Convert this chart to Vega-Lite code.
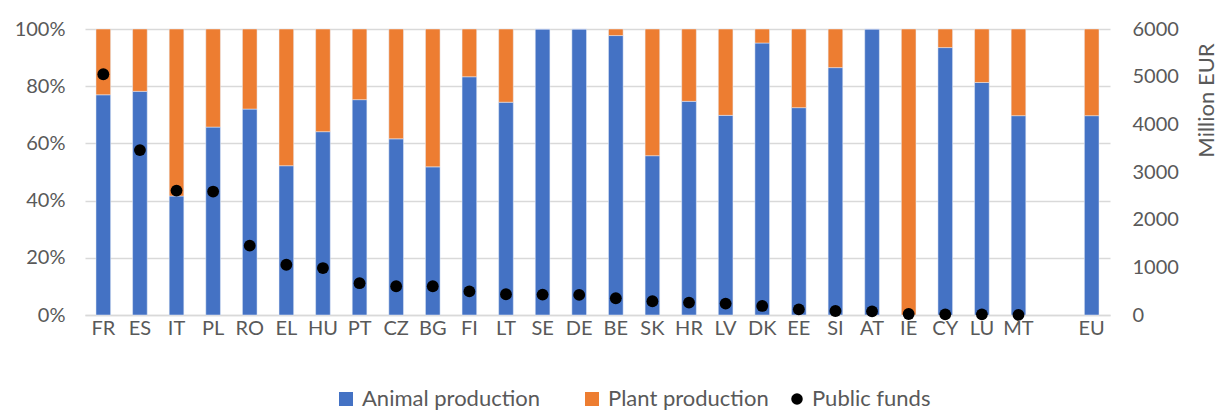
{
  "$schema": "https://vega.github.io/schema/vega-lite/v6.json",
  "autosize": "none",
  "width": 1025,
  "height": 286,
  "padding": {"left": 85, "top": 29, "right": 109, "bottom": 95},
  "background": "white",
  "config": {
    "font": "Lato",
    "view": {"stroke": null},
    "axis": {"labelColor": "#595959", "titleColor": "#595959", "labelFont": "Lato", "titleFont": "Lato"},
    "legend": {"labelColor": "#595959", "labelFont": "Lato", "labelFontSize": 22, "labelOffset": 5, "labelLimit": 400}
  },
  "data": {
    "values": [
      {"country": "FR", "Animal production": 77.0, "Plant production": 23.0, "funds": 5050},
      {"country": "ES", "Animal production": 78.2, "Plant production": 21.8, "funds": 3460},
      {"country": "IT", "Animal production": 41.6, "Plant production": 58.4, "funds": 2610},
      {"country": "PL", "Animal production": 65.7, "Plant production": 34.3, "funds": 2590},
      {"country": "RO", "Animal production": 72.0, "Plant production": 28.0, "funds": 1455},
      {"country": "EL", "Animal production": 52.2, "Plant production": 47.8, "funds": 1055},
      {"country": "HU", "Animal production": 64.1, "Plant production": 35.9, "funds": 985},
      {"country": "PT", "Animal production": 75.3, "Plant production": 24.7, "funds": 667},
      {"country": "CZ", "Animal production": 61.6, "Plant production": 38.4, "funds": 604},
      {"country": "BG", "Animal production": 51.8, "Plant production": 48.2, "funds": 604},
      {"country": "FI", "Animal production": 83.3, "Plant production": 16.7, "funds": 495},
      {"country": "LT", "Animal production": 74.4, "Plant production": 25.6, "funds": 435},
      {"country": "SE", "Animal production": 100, "Plant production": 0, "funds": 428},
      {"country": "DE", "Animal production": 100, "Plant production": 0, "funds": 421},
      {"country": "BE", "Animal production": 97.7, "Plant production": 2.3, "funds": 351},
      {"country": "SK", "Animal production": 55.7, "Plant production": 44.3, "funds": 288},
      {"country": "HR", "Animal production": 74.7, "Plant production": 25.3, "funds": 260},
      {"country": "LV", "Animal production": 69.8, "Plant production": 30.2, "funds": 239},
      {"country": "DK", "Animal production": 95.1, "Plant production": 4.9, "funds": 190},
      {"country": "EE", "Animal production": 72.5, "Plant production": 27.5, "funds": 119},
      {"country": "SI", "Animal production": 86.5, "Plant production": 13.5, "funds": 84},
      {"country": "AT", "Animal production": 100, "Plant production": 0, "funds": 77},
      {"country": "IE", "Animal production": 0, "Plant production": 100, "funds": 21},
      {"country": "CY", "Animal production": 93.5, "Plant production": 6.5, "funds": 14},
      {"country": "LU", "Animal production": 81.3, "Plant production": 18.7, "funds": 14},
      {"country": "MT", "Animal production": 69.7, "Plant production": 30.3, "funds": 2},
      {"country": "EU", "Animal production": 69.7, "Plant production": 30.3, "funds": null}
    ]
  },
  "encoding": {
    "x": {
      "field": "country",
      "type": "nominal",
      "sort": null,
      "scale": {
        "domain": ["FR","ES","IT","PL","RO","EL","HU","PT","CZ","BG","FI","LT","SE","DE","BE","SK","HR","LV","DK","EE","SI","AT","IE","CY","LU","MT"," ","EU"],
        "paddingInner": 0.6,
        "paddingOuter": 0.3
      },
      "axis": {
        "title": null,
        "labelAngle": 0,
        "labelFontSize": 20,
        "labelPadding": 3,
        "ticks": false,
        "domainColor": "#d9d9d9",
        "domainWidth": 1.5,
        "grid": false
      }
    }
  },
  "layer": [
    {
      "transform": [
        {"fold": ["Animal production", "Plant production"], "as": ["type", "share"]}
      ],
      "mark": {"type": "bar", "stroke": "#e8eef8", "strokeWidth": 0.5},
      "encoding": {
        "y": {
          "field": "share",
          "type": "quantitative",
          "stack": "zero",
          "scale": {"domain": [0, 100], "nice": false},
          "axis": {
            "title": null,
            "values": [0, 20, 40, 60, 80, 100],
            "labelExpr": "datum.value + '%'",
            "labelFontSize": 20,
            "labelPadding": 20,
            "ticks": false,
            "domain": false,
            "gridColor": "#d9d9d9",
            "gridWidth": 1.5
          }
        },
        "order": {"field": "type", "sort": "ascending"},
        "color": {
          "field": "type",
          "type": "nominal",
          "scale": {
            "domain": ["Animal production", "Plant production"],
            "range": ["#4472C4", "#ED7D31"]
          },
          "legend": {
            "title": null,
            "orient": "none",
            "direction": "horizontal",
            "legendX": 250,
            "legendY": 359,
            "symbolType": "square",
            "symbolSize": 196,
            "symbolStrokeWidth": 0,
            "columnPadding": 40
          }
        }
      }
    },
    {
      "transform": [{"filter": "isValid(datum.funds)"}],
      "mark": {"type": "point", "filled": true, "size": 140, "opacity": 1, "color": "#000000"},
      "encoding": {
        "y": {
          "field": "funds",
          "type": "quantitative",
          "scale": {"domain": [0, 6000], "nice": false},
          "axis": {
            "orient": "right",
            "title": "Million EUR",
            "titleFontSize": 22,
            "titleFontWeight": "normal",
            "titleAngle": -90,
            "titleX": 96,
            "titleY": 71,
            "titleAlign": "center",
            "titleBaseline": "middle",
            "values": [0, 1000, 2000, 3000, 4000, 5000, 6000],
            "format": "d",
            "labelFontSize": 20,
            "labelPadding": 22,
            "ticks": false,
            "domain": false,
            "grid": false
          }
        },
        "shape": {
          "datum": "Public funds",
          "scale": {"domain": ["Public funds"], "range": ["circle"]},
          "legend": {
            "title": null,
            "orient": "none",
            "direction": "horizontal",
            "legendX": 701,
            "legendY": 359,
            "symbolSize": 133,
            "symbolFillColor": "#000000",
            "symbolStrokeWidth": 0,
            "labelOffset": 4
          }
        }
      }
    }
  ],
  "resolve": {"scale": {"y": "independent"}}
}
